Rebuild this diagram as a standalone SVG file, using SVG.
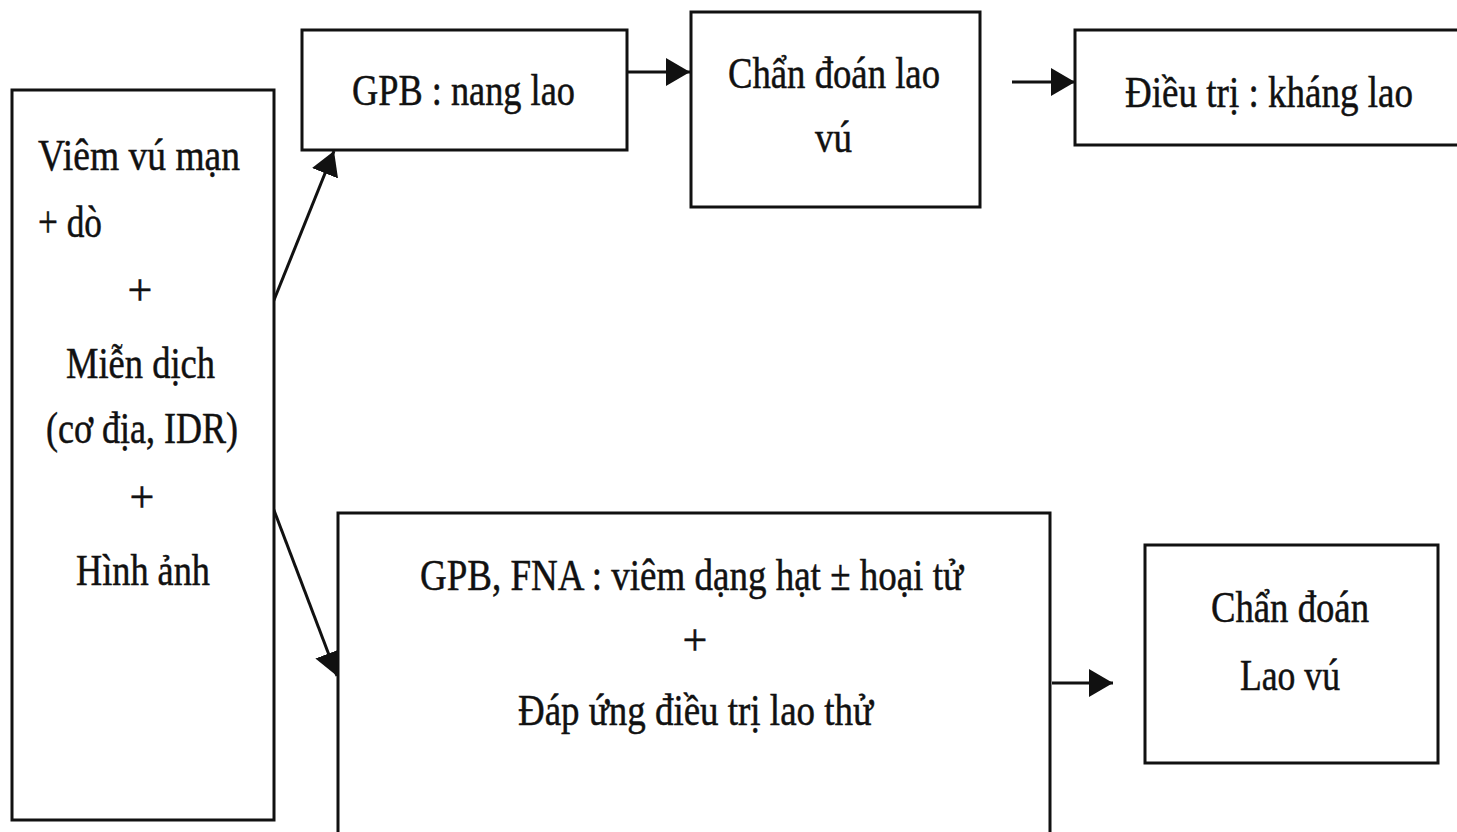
<svg xmlns="http://www.w3.org/2000/svg" width="1457" height="832" viewBox="0 0 1457 832">
<style>
.box{fill:#fff;stroke:#111;stroke-width:3}
.t{font-family:"Liberation Serif","Times New Roman",serif;font-size:44px;fill:#111;stroke:#111;stroke-width:0.5}
.c{stroke:#111;stroke-width:3;fill:none}
</style>
<defs>
<marker id="ah" markerUnits="userSpaceOnUse" markerWidth="26" markerHeight="28" refX="24" refY="14" orient="auto">
<path d="M0,0 L24,14 L0,28 Z" fill="#111"/>
</marker>
</defs>
<rect width="1457" height="832" fill="#fff"/>
<g id="connectors">
<line class="c" x1="272" y1="305" x2="334" y2="151" marker-end="url(#ah)"/>
<line class="c" x1="272" y1="505" x2="337" y2="676" marker-end="url(#ah)"/>
<line class="c" x1="627" y1="72" x2="690" y2="72" marker-end="url(#ah)"/>
<line class="c" x1="1012" y1="82" x2="1075" y2="82" marker-end="url(#ah)"/>
<line class="c" x1="1052" y1="683" x2="1113" y2="683" marker-end="url(#ah)"/>
</g>
<g id="n-left">
<rect class="box" x="12" y="90" width="262" height="730"/>
<text class="t" x="38" y="170" textLength="202" lengthAdjust="spacingAndGlyphs">Viêm vú mạn</text>
<text class="t" x="38" y="237" textLength="64" lengthAdjust="spacingAndGlyphs">+ dò</text>
<text class="t" x="140" y="305" text-anchor="middle">+</text>
<text class="t" x="66" y="378" textLength="149" lengthAdjust="spacingAndGlyphs">Miễn dịch</text>
<text class="t" x="46" y="443" textLength="192" lengthAdjust="spacingAndGlyphs">(cơ địa, IDR)</text>
<text class="t" x="142" y="512" text-anchor="middle">+</text>
<text class="t" x="76" y="585" textLength="134" lengthAdjust="spacingAndGlyphs">Hình ảnh</text>
</g>
<g id="n-gpb">
<rect class="box" x="302" y="30" width="325" height="120"/>
<text class="t" x="352" y="105" textLength="223" lengthAdjust="spacingAndGlyphs">GPB : nang lao</text>
</g>
<g id="n-chandoan1">
<rect class="box" x="691" y="12" width="289" height="195"/>
<text class="t" x="728" y="88" textLength="212" lengthAdjust="spacingAndGlyphs">Chẩn đoán lao</text>
<text class="t" x="815" y="152" textLength="37" lengthAdjust="spacingAndGlyphs">vú</text>
</g>
<g id="n-dieutri">
<path class="box" d="M1457,30 L1075,30 L1075,145 L1457,145"/>
<text class="t" x="1125" y="107" textLength="288" lengthAdjust="spacingAndGlyphs">Điều trị : kháng lao</text>
</g>
<g id="n-gpbfna">
<path class="box" d="M338,832 L338,513 L1050,513 L1050,832"/>
<text class="t" x="420" y="590" textLength="543" lengthAdjust="spacingAndGlyphs">GPB, FNA : viêm dạng hạt ± hoại tử</text>
<text class="t" x="695" y="655" text-anchor="middle">+</text>
<text class="t" x="518" y="725" textLength="355" lengthAdjust="spacingAndGlyphs">Đáp ứng điều trị lao thử</text>
</g>
<g id="n-chandoan2">
<rect class="box" x="1145" y="545" width="293" height="218"/>
<text class="t" x="1211" y="622" textLength="158" lengthAdjust="spacingAndGlyphs">Chẩn đoán</text>
<text class="t" x="1240" y="690" textLength="100" lengthAdjust="spacingAndGlyphs">Lao vú</text>
</g>
</svg>
